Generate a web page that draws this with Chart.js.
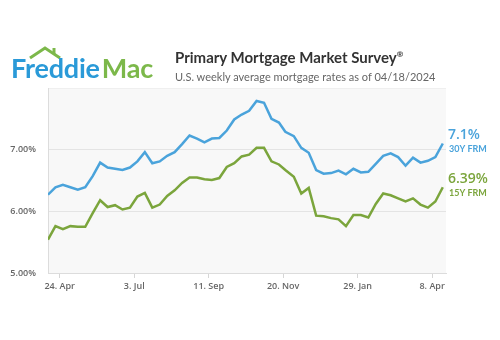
<!DOCTYPE html>
<html>
<head>
<meta charset="utf-8">
<script src="https://cdn.jsdelivr.net/npm/chart.js@4.4.1/dist/chart.umd.min.js"></script>
<style>
    html, body { margin: 0; padding: 0; background: #fff; }
    #wrap { position: relative; width: 500px; height: 340px; overflow: hidden; font-family: Lato, "Open Sans", sans-serif; }
    #chart { position: absolute; left: 0; top: 0; }
    .logo { position: absolute; left: 11px; top: 51px; font-size: 27px; font-weight: 700; letter-spacing: -0.2px; white-space: nowrap; }
    .logo .fr { color: #2a9ad8; }
    .logo .mac { color: #7cb84a; margin-left: 2px; }
    .roof { position: absolute; left: 28px; top: 45px; }
    .title { position: absolute; left: 175px; top: 48px; font-size: 15px; font-weight: 700; color: #333; white-space: nowrap; }
    .title sup { font-size: 8px; vertical-align: 6px; }
    .sub { position: absolute; left: 175px; top: 70px; font-size: 11px; color: #666; white-space: nowrap; }
</style>
</head>
<body>
<div id="wrap">
    <canvas id="chart" width="500" height="340"></canvas>
    <svg class="roof" width="36" height="16" viewBox="0 0 36 16">
        <polyline points="2,13 17,3 32,13" fill="none" stroke="#7cb84a" stroke-width="3" stroke-linejoin="miter"/>
        <line x1="26" y1="9" x2="26" y2="3" stroke="#7cb84a" stroke-width="3"/>
    </svg>
    <div class="logo"><span class="fr">Freddie</span><span class="mac">Mac</span></div>
    <div class="title">Primary Mortgage Market Survey<sup>®</sup></div>
    <div class="sub">U.S. weekly average mortgage rates as of 04/18/2024</div>
</div>
<script>
// weekly survey dates
const weeks = [
    '2023-04-13', '2023-04-20', '2023-04-27', '2023-05-04', '2023-05-11', '2023-05-18', '2023-05-25',
    '2023-06-01', '2023-06-08', '2023-06-15', '2023-06-22', '2023-06-29', '2023-07-06', '2023-07-13',
    '2023-07-20', '2023-07-27', '2023-08-03', '2023-08-10', '2023-08-17', '2023-08-24', '2023-08-31',
    '2023-09-07', '2023-09-14', '2023-09-21', '2023-09-28', '2023-10-05', '2023-10-12', '2023-10-19',
    '2023-10-26', '2023-11-02', '2023-11-09', '2023-11-16', '2023-11-22', '2023-11-30', '2023-12-07',
    '2023-12-14', '2023-12-21', '2023-12-28', '2024-01-04', '2024-01-11', '2024-01-18', '2024-01-25',
    '2024-02-01', '2024-02-08', '2024-02-15', '2024-02-22', '2024-02-29', '2024-03-07', '2024-03-14',
    '2024-03-21', '2024-03-28', '2024-04-04', '2024-04-11', '2024-04-18'
];

const rate30 = [
    6.27, 6.39, 6.43, 6.39, 6.35, 6.39, 6.57,
    6.79, 6.71, 6.69, 6.67, 6.71, 6.81, 6.96,
    6.78, 6.81, 6.90, 6.96, 7.09, 7.23, 7.18,
    7.12, 7.18, 7.19, 7.31, 7.49, 7.57, 7.63,
    7.79, 7.76, 7.50, 7.44, 7.29, 7.22, 7.03,
    6.95, 6.67, 6.61, 6.62, 6.66, 6.60, 6.69,
    6.63, 6.64, 6.77, 6.90, 6.94, 6.88, 6.74,
    6.87, 6.79, 6.82, 6.88, 7.10
];

const rate15 = [
    5.54, 5.76, 5.71, 5.76, 5.75, 5.75, 5.97,
    6.18, 6.07, 6.10, 6.03, 6.06, 6.24, 6.30,
    6.06, 6.11, 6.25, 6.34, 6.46, 6.55, 6.55,
    6.52, 6.51, 6.54, 6.72, 6.78, 6.89, 6.92,
    7.03, 7.03, 6.81, 6.76, 6.67, 6.56, 6.29,
    6.38, 5.93, 5.92, 5.89, 5.87, 5.76, 5.94,
    5.94, 5.90, 6.12, 6.29, 6.26, 6.21, 6.16,
    6.21, 6.11, 6.06, 6.16, 6.39
];

// x axis ticks every ten weeks
const tickDates = ['2023-04-24', '2023-07-03', '2023-09-11', '2023-11-20', '2024-01-29', '2024-04-08'];
const tickLabels = ['24. Apr', '3. Jul', '11. Sep', '20. Nov', '29. Jan', '8. Apr'];

const yTicks = [5, 6, 7];

const BLUE = '#4aa3db';
const GREEN = '#7ba53c';
const AXIS_FONT = { family: '"Open Sans", Lato, sans-serif', size: 9, weight: '600' };

const ts = d => Date.parse(d + 'T00:00:00Z');
const tickTimes = tickDates.map(ts);

const series30 = weeks.map((w, i) => ({ x: ts(w), y: rate30[i] }));
const series15 = weeks.map((w, i) => ({ x: ts(w), y: rate15[i] }));

// light gray plot background
const plotBg = {
    id: 'plotBg',
    beforeDraw(chart) {
        const { ctx, chartArea: a } = chart;
        ctx.save();
        ctx.fillStyle = '#f8f8f8';
        ctx.fillRect(a.left, a.top, a.right - a.left, a.bottom - a.top);
        ctx.restore();
    }
};

// latest value labels to the right of each line
const endLabels = {
    id: 'endLabels',
    afterDatasetsDraw(chart) {
        const { ctx, chartArea: a, scales } = chart;
        ctx.save();
        ctx.textAlign = 'left';
        ctx.textBaseline = 'middle';
        chart.data.datasets.forEach(ds => {
            const last = ds.data[ds.data.length - 1];
            const y = scales.y.getPixelForValue(last.y);
            ctx.fillStyle = ds.borderColor;
            ctx.font = '600 14px "Open Sans", Lato, sans-serif';
            ctx.fillText(String(last.y) + '%', a.right + 2, y - 8);
            ctx.font = '700 9px Lato, "Open Sans", sans-serif';
            ctx.fillText(ds.label, a.right + 3, y + 6);
        });
        ctx.restore();
    }
};

new Chart(document.getElementById('chart').getContext('2d'), {
    type: 'line',
    data: {
        datasets: [
            { label: '30Y FRM', data: series30, borderColor: BLUE, borderWidth: 2.5, pointRadius: 0, tension: 0 },
            { label: '15Y FRM', data: series15, borderColor: GREEN, borderWidth: 2.5, pointRadius: 0, tension: 0 }
        ]
    },
    options: {
        responsive: false,
        animation: false,
        layout: { padding: { left: 8, right: 54, top: 88, bottom: 42 } },
        plugins: { legend: { display: false }, tooltip: { enabled: false } },
        scales: {
            x: {
                type: 'linear',
                min: ts('2023-04-13'),
                max: ts('2024-04-21'),
                afterBuildTicks: scale => { scale.ticks = tickTimes.map(v => ({ value: v })); },
                afterFit: scale => { scale.height = 25; },
                grid: { drawOnChartArea: false, drawTicks: true, tickLength: 5, color: '#d6d6d6' },
                border: { color: '#dcdcdc' },
                ticks: {
                    autoSkip: false,
                    maxRotation: 0,
                    padding: 3,
                    color: '#666',
                    font: AXIS_FONT,
                    callback: v => tickLabels[tickTimes.indexOf(v)] || ''
                }
            },
            y: {
                min: 5,
                max: 8,
                afterBuildTicks: scale => { scale.ticks = yTicks.concat([8]).map(v => ({ value: v })); },
                afterFit: scale => { scale.width = 40; },
                grid: { drawTicks: false, color: ctx => ctx.tick && ctx.tick.value === 8 ? '#efefef' : '#e4e4e4' },
                border: { color: '#dcdcdc' },
                ticks: {
                    padding: 12,
                    color: '#666',
                    font: AXIS_FONT,
                    callback: v => yTicks.includes(v) ? v.toFixed(2) + '%' : ''
                }
            }
        }
    },
    plugins: [plotBg, endLabels]
});
</script>
</body>
</html>
